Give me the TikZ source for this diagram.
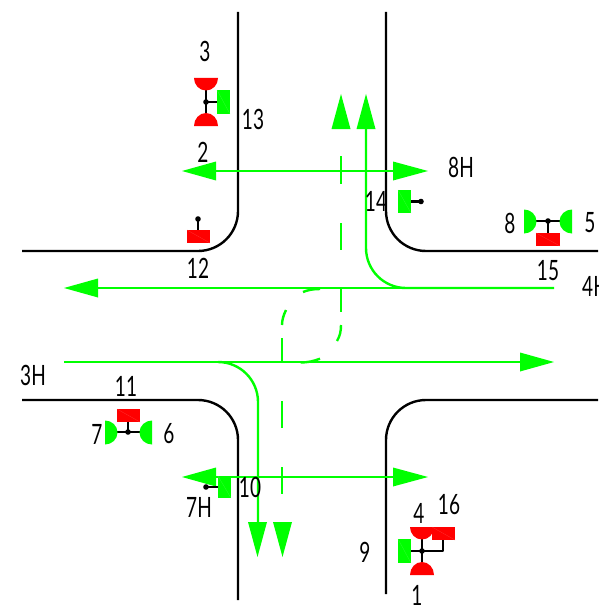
\documentclass[tikz,border=0pt]{standalone}
\usepackage{fontspec}
\usepackage{graphicx}
\setmainfont{Lato}
\definecolor{gr}{RGB}{0,255,0}
\definecolor{rd}{RGB}{255,0,0}
\tikzset{
  road/.style={line width=2.4pt,black},
  lane/.style={line width=2.4pt,gr},
  tick/.style={line width=2.4pt,gr},
  lab/.style={inner sep=0,anchor=center,black},
  pole/.style={line width=2.3pt,black},
  hatchg/.style={line width=.25pt,gr!80!white},
  hatchr/.style={line width=.25pt,rd!80!white},
}
\newcommand{\lb}[1]{\scalebox{0.68}[1]{\fontsize{28}{28}\selectfont #1}}
\newcommand{\dotat}[2]{\fill[black] (#1,#2) circle (2.8);}
% domes: centre of flat side, colour
\newcommand{\domeD}[3]{\fill[#3] (#1-12,#2) arc[start angle=180,end angle=0,x radius=12,y radius=12.5] -- cycle;}
\newcommand{\domeU}[3]{\fill[#3] (#1-12,#2) arc[start angle=180,end angle=360,x radius=12,y radius=13] -- cycle;}
\newcommand{\domeR}[3]{\fill[#3] (#1,#2-12) arc[start angle=-90,end angle=90,x radius=12.5,y radius=12] -- cycle;}
\newcommand{\domeL}[3]{\fill[#3] (#1,#2-12) arc[start angle=270,end angle=90,x radius=12.5,y radius=12] -- cycle;}
\newcommand{\boxg}[4]{\fill[gr] (#1,#2) rectangle (#3,#4); \draw[hatchg] (#1,#2) -- (#3,#4);}
\newcommand{\boxr}[4]{\fill[rd] (#1,#2) rectangle (#3,#4); \draw[hatchr] (#1,#2) -- (#3,#4);}
\begin{document}
\begin{tikzpicture}[x=1pt,y=-1pt,line join=round]
\useasboundingbox (0,0) rectangle (598,607);
% kerbs
\draw[road] (238,12) -- (238,211) arc[start angle=0,end angle=90,radius=40] -- (22,251);
\draw[road] (386,12) -- (386,211) arc[start angle=180,end angle=90,radius=40] -- (598,251);
\draw[road] (22,400) -- (198,400) arc[start angle=-90,end angle=0,radius=40] -- (238,600);
\draw[road] (598,400) -- (426,400) arc[start angle=270,end angle=180,radius=40] -- (386,594);
% lanes
\draw[lane] (210,171) -- (400,171);
\draw[lane] (210,477) -- (400,477);
\draw[lane] (366,125) -- (366,248) arc[start angle=180,end angle=90,radius=40] -- (554,288);
\draw[lane] (554,288) -- (90,288);
\draw[lane] (64,362) -- (525,362);
\draw[lane] (218,362) arc[start angle=-90,end angle=0,radius=40] -- (258,525);
% dashed centre lines
\draw[tick] (341,156) -- (341,184);
\draw[tick] (341,223) -- (341,250);
\draw[tick] (341,289) -- (341,312);
\draw[tick] (341,325) .. controls (341,331) and (340,336) .. (337,341);
\draw[tick] (320,358.7) .. controls (314,361) and (308,362.5) .. (300.7,362.5);
\draw[tick] (320,289) .. controls (313,289) and (308,290) .. (303,292);
\draw[tick] (286,310) .. controls (283.5,315) and (282,320) .. (282,325);
\draw[tick] (282,338) -- (282,362);
\draw[tick] (282,401) -- (282,428);
\draw[tick] (282,467) -- (282,494);
% arrowheads
\fill[gr] (182,171) -- (216,161.5) -- (216,180.5) -- cycle;
\fill[gr] (428,171) -- (393,161.5) -- (393,180.5) -- cycle;
\fill[gr] (182,477) -- (216,467.5) -- (216,486.5) -- cycle;
\fill[gr] (428,477) -- (393,467.5) -- (393,486.5) -- cycle;
\fill[gr] (341,94) -- (331.5,129) -- (350.5,129) -- cycle;
\fill[gr] (366,94) -- (356.5,129) -- (375.5,129) -- cycle;
\fill[gr] (64,288) -- (98,278.5) -- (98,297.5) -- cycle;
\fill[gr] (554,362) -- (520,352.5) -- (520,371.5) -- cycle;
\fill[gr] (257.5,557) -- (248,522) -- (267,522) -- cycle;
\fill[gr] (282.5,557) -- (273,522) -- (292,522) -- cycle;
% signal group top
\draw[pole] (206,88) -- (206,115) (206,102) -- (218,102);
\domeD{206}{78}{rd}
\domeU{206}{126}{rd}
\dotat{206}{102}
\boxg{217}{90}{230}{114}
% signal group bottom right
\draw[pole] (422,537) -- (422,565) (410,551) -- (443,551) -- (443,539);
\domeD{422}{527}{rd}
\domeU{422}{575}{rd}
\dotat{422}{551}
\boxr{432}{527}{455}{540}
\boxg{398}{539}{411}{563}
% signal group right
\draw[pole] (534,221) -- (562,221) (548,221) -- (548,234);
\domeR{524}{221.5}{gr}
\domeL{572}{221.5}{gr}
\dotat{548}{221}
\boxr{536}{233}{560}{246}
% signal group left
\draw[pole] (115,432) -- (142,432) (128,432) -- (128,421);
\domeR{105}{432.5}{gr}
\domeL{152}{432.5}{gr}
\dotat{128}{432}
\boxr{117}{409}{140}{422}
% single signals
\draw[pole] (198,231) -- (198,219);
\dotat{198}{219}
\boxr{187}{230}{210}{243}
\draw[pole] (410,201.5) -- (421,201.5);
\dotat{421}{201.5}
\boxg{398}{190}{411}{213}
\draw[pole] (219,487) -- (206,487);
\dotat{206}{487}
\boxg{218}{476}{231}{498}
% labels
\node[lab] (l3) at (205,51) {\lb{3}};
\node[lab] (l13) at (253,119) {\lb{13}};
\node[lab] (l2) at (203,152) {\lb{2}};
\node[lab] (l8H) at (461,167) {\lb{8H}};
\node[lab] (l14) at (376,201) {\lb{14}};
\node[lab] (l8) at (510,223) {\lb{8}};
\node[lab] (l5) at (590,223) {\lb{5}};
\node[lab] (l12) at (198,268) {\lb{12}};
\node[lab] (l15) at (548,271) {\lb{15}};
\node[lab,anchor=west] (l4H) at (582,286) {\lb{4H}};
\node[lab] (l3H) at (33,375) {\lb{3H}};
\node[lab] (l11) at (126,386) {\lb{11}};
\node[lab] (l7) at (97,434) {\lb{7}};
\node[lab] (l6) at (169,434) {\lb{6}};
\node[lab] (l10) at (250,487) {\lb{10}};
\node[lab] (l7H) at (199,507) {\lb{7H}};
\node[lab] (l4) at (419,513) {\lb{4}};
\node[lab] (l16) at (449,505) {\lb{16}};
\node[lab] (l9) at (365,552) {\lb{9}};
\node[lab] (l1) at (417,595) {\lb{1}};
\end{tikzpicture}
\end{document}
